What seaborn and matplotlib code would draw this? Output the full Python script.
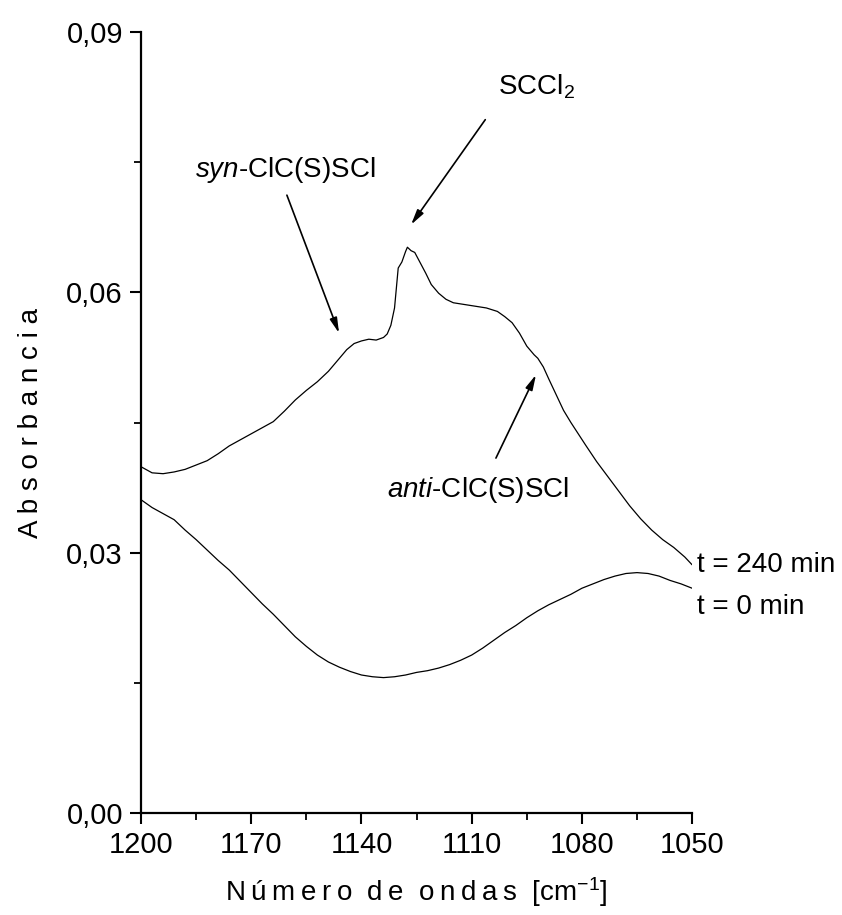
import numpy as np
import pandas as pd
import matplotlib
matplotlib.use("Agg")
import matplotlib.pyplot as plt
import seaborn as sns

# Wavenumbers (cm-1) and absorbance for the spectrum after 240 min
wn_240 = [1200, 1197, 1194, 1191, 1188, 1185, 1182, 1179, 1176, 1173, 1170,
          1167, 1164, 1161, 1158, 1155, 1152, 1149, 1146, 1144, 1142, 1140,
          1138, 1136, 1134, 1133, 1132, 1131, 1130.5, 1130, 1129, 1128,
          1127.5, 1126.5, 1125.5, 1124, 1122.5, 1121, 1119, 1117, 1115, 1112,
          1109, 1106, 1103, 1101, 1099, 1097, 1095, 1093, 1092, 1090.5, 1089,
          1087, 1085, 1083, 1081, 1079, 1076, 1073, 1070, 1067, 1064, 1061,
          1058, 1055, 1052, 1050]
abs_240 = [0.0399, 0.0392, 0.0391, 0.0393, 0.0396, 0.0401, 0.0406, 0.0414,
           0.0423, 0.0430, 0.0437, 0.0444, 0.0451, 0.0463, 0.0476, 0.0487,
           0.0497, 0.0509, 0.0524, 0.0534, 0.0541, 0.0544, 0.0546, 0.0545,
           0.0548, 0.0552, 0.0562, 0.0582, 0.0605, 0.0628, 0.0635, 0.0647,
           0.0652, 0.0648, 0.0646, 0.0634, 0.0622, 0.0609, 0.0599, 0.0592,
           0.0588, 0.0586, 0.0584, 0.0582, 0.0578, 0.0572, 0.0565, 0.0553,
           0.0538, 0.0528, 0.0524, 0.0514, 0.0500, 0.0482, 0.0464, 0.0450,
           0.0437, 0.0424, 0.0405, 0.0388, 0.0371, 0.0354, 0.0339, 0.0326,
           0.0315, 0.0306, 0.0295, 0.0286]

# Spectrum at t = 0
wn_0 = [1200, 1197, 1194, 1191, 1188, 1185, 1182, 1179, 1176, 1173, 1170,
        1167, 1164, 1161, 1158, 1155, 1152, 1149, 1146, 1143, 1140, 1137,
        1134, 1131, 1128, 1125, 1122, 1119, 1116, 1113, 1110, 1107, 1104,
        1101, 1098, 1095, 1092, 1089, 1086, 1083, 1080, 1077, 1074, 1071,
        1068, 1065, 1062, 1059, 1056, 1053, 1050]
abs_0 = [0.0361, 0.0352, 0.0345, 0.0338, 0.0326, 0.0315, 0.0303, 0.0291,
         0.0280, 0.0267, 0.0254, 0.0241, 0.0229, 0.0216, 0.0203, 0.0192,
         0.0182, 0.0174, 0.0168, 0.0163, 0.0159, 0.0157, 0.0156, 0.0157,
         0.0159, 0.0162, 0.0164, 0.0167, 0.0171, 0.0176, 0.0182, 0.0190,
         0.0199, 0.0208, 0.0216, 0.0225, 0.0233, 0.0240, 0.0246, 0.0252,
         0.0259, 0.0264, 0.0269, 0.0273, 0.0276, 0.0277, 0.0276, 0.0273,
         0.0268, 0.0264, 0.0259]

series_labels = ["t = 240 min", "t = 0 min"]
x_ticks = [1200, 1170, 1140, 1110, 1080, 1050]
y_ticks = [0.00, 0.03, 0.06, 0.09]
y_tick_labels = ["0,00", "0,03", "0,06", "0,09"]

df = pd.concat([
    pd.DataFrame({"wn": wn_240, "A": abs_240, "serie": series_labels[0]}),
    pd.DataFrame({"wn": wn_0, "A": abs_0, "serie": series_labels[1]}),
])

sns.set_style("ticks")
plt.rcParams["font.family"] = ["Liberation Sans", "DejaVu Sans"]
plt.rcParams["text.color"] = "black"
plt.rcParams["axes.labelcolor"] = "black"
plt.rcParams["mathtext.fontset"] = "custom"
plt.rcParams["mathtext.rm"] = "Liberation Sans"
plt.rcParams["mathtext.it"] = "Liberation Sans:italic"

fig = plt.figure(figsize=(8.42, 9.15), dpi=100)
ax = fig.add_axes([0.1675, 0.1115, 0.6545, 0.8535])

sns.lineplot(data=df, x="wn", y="A", hue="serie", units="serie",
             estimator=None, sort=False, palette=["black", "black"],
             linewidth=0.9, legend=False, ax=ax)

ax.set_xlim(1200, 1050)
ax.set_ylim(0, 0.09)
ax.set_xticks(x_ticks)
ax.set_xticklabels([str(t) for t in x_ticks])
ax.set_yticks(y_ticks)
ax.set_yticklabels(y_tick_labels)
ax.set_xticks([1185, 1155, 1125, 1095, 1065], minor=True)
ax.set_yticks([0.015, 0.045, 0.075], minor=True)
ax.tick_params(which="major", direction="out", length=8, width=1.5,
               labelsize=21, pad=5, color="black", labelcolor="black")
ax.tick_params(which="minor", direction="out", length=5, width=1.3,
               color="black")
sns.despine(ax=ax)
for side in ("left", "bottom"):
    ax.spines[side].set_linewidth(1.6)
    ax.spines[side].set_color("black")

thin = "\u2009"
xlab = "  ".join(thin.join(w) for w in ["Número", "de", "ondas"])
ax.set_xlabel(xlab + "  [cm$^{-1}$]", fontsize=20, labelpad=12)
ax.set_ylabel("A b s o r b a n c i a", fontsize=20, labelpad=16)

arrow = dict(arrowstyle="-|>,head_length=0.9,head_width=0.22", lw=1.2,
             color="black", shrinkA=0, shrinkB=0)
fs = 20

ax.text(1160.8, 0.0741, "$\\mathit{syn}$-ClC(S)SCl", fontsize=fs,
        ha="center", va="center")
ax.annotate("", xy=(1146.1, 0.0553), xytext=(1160.3, 0.0712),
            arrowprops=arrow)

ax.text(1102.8, 0.0837, "SCCl$_2$", fontsize=fs, ha="left", va="center")
ax.annotate("", xy=(1126.5, 0.0678), xytext=(1106.3, 0.0799),
            arrowprops=arrow)

ax.text(1108.3, 0.0372, "$\\mathit{anti}$-ClC(S)SCl", fontsize=fs,
        ha="center", va="center")
ax.annotate("", xy=(1092.5, 0.0505), xytext=(1103.4, 0.0409),
            arrowprops=arrow)

ax.text(1048.6, 0.0286, series_labels[0], fontsize=fs, ha="left",
        va="center", clip_on=False)
ax.text(1048.6, 0.0237, series_labels[1], fontsize=fs, ha="left",
        va="center", clip_on=False)

fig.savefig("out.png", dpi=100)
